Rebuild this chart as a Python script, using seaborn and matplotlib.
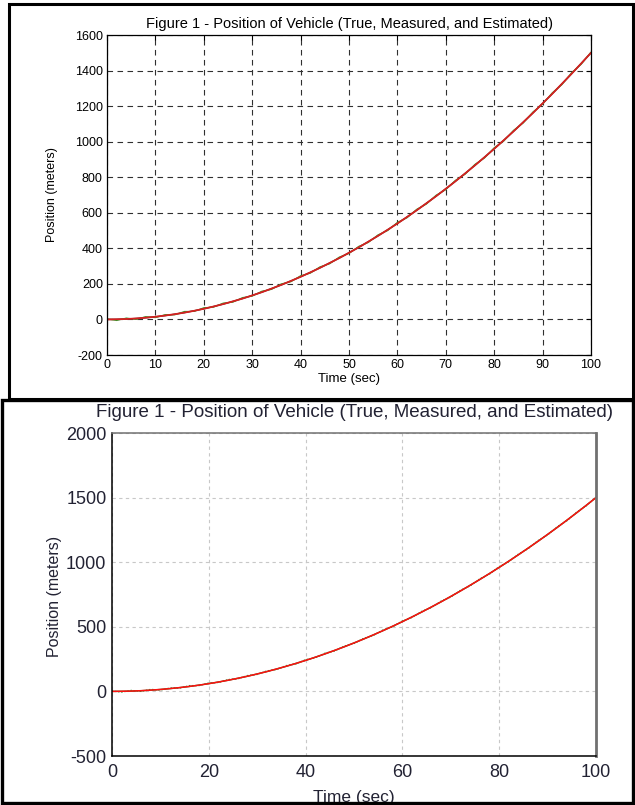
import matplotlib
matplotlib.use("Agg")
import matplotlib.pyplot as plt
import seaborn as sns
import pandas as pd
from matplotlib.patches import Rectangle

# ---- data ----
time_s = [0, 2, 4, 6, 8, 10, 12, 14, 16, 18, 20, 22, 24, 26, 28, 30, 32, 34, 36, 38,
          40, 42, 44, 46, 48, 50, 52, 54, 56, 58, 60, 62, 64, 66, 68, 70, 72, 74, 76, 78,
          80, 82, 84, 86, 88, 90, 92, 94, 96, 98, 100]
true_pos = [0, 0.6, 2.4, 5.4, 9.6, 15, 21.6, 29.4, 38.4, 48.6, 60, 72.6, 86.4, 101.4,
            117.6, 135, 153.6, 173.4, 194.4, 216.6, 240, 264.6, 290.4, 317.4, 345.6, 375,
            405.6, 437.4, 470.4, 504.6, 540, 576.6, 614.4, 653.4, 693.6, 735, 777.6, 821.4,
            866.4, 912.6, 960, 1008.6, 1058.4, 1109.4, 1161.6, 1215, 1269.6, 1325.4, 1382.4,
            1440.6, 1500]
measured_pos = [3, -6, 8, 0, 16, 10, 27, 26, 45, 45, 66, 69, 92, 97, 123, 131, 159, 169,
                200, 212, 246, 260, 296, 313, 351, 371, 411, 433, 476, 500, 546, 572, 620,
                649, 699, 730, 783, 817, 872, 908, 966, 1004, 1064, 1105, 1167, 1211, 1275,
                1321, 1388, 1436, 1504]
estimated_pos = [0, 1, 2.5, 5.5, 10, 15, 22, 29.5, 38.5, 48.5, 60, 72.5, 86.5, 101.5,
                 117.5, 135, 153.5, 173.5, 194.5, 216.5, 240, 264.5, 290.5, 317.5, 345.5,
                 375, 405.5, 437.5, 470.5, 504.5, 540, 576.5, 614.5, 653.5, 693.5, 735,
                 777.5, 821.5, 866.5, 912.5, 960, 1008.5, 1058.5, 1109.5, 1161.5, 1215,
                 1269.5, 1325.5, 1382.5, 1440.5, 1500]

title = "Figure 1 - Position of Vehicle (True, Measured, and Estimated)"
top_yticks = [-200, 0, 200, 400, 600, 800, 1000, 1200, 1400, 1600]
top_xticks = [0, 10, 20, 30, 40, 50, 60, 70, 80, 90, 100]
bot_yticks = [-500, 0, 500, 1000, 1500, 2000]
bot_xticks = [0, 20, 40, 60, 80, 100]

df = pd.DataFrame({"t": time_s, "true": true_pos, "meas": measured_pos, "est": estimated_pos})

sns.set_theme(style="white")
plt.rcParams["font.family"] = ["Liberation Sans", "DejaVu Sans"]
plt.rcParams["axes.unicode_minus"] = False

W, H = 635, 805
fig = plt.figure(figsize=(W / 100, H / 100), dpi=100)


def fr(x0, y0, x1, y1):
    return [x0 / W, 1 - y1 / H, (x1 - x0) / W, (y1 - y0) / H]


# ---------------- top panel (MATLAB style) ----------------
ax1 = fig.add_axes(fr(107, 35, 591, 355))
sns.lineplot(data=df, x="t", y="true", ax=ax1, color="#202020", lw=1.0)
sns.lineplot(data=df, x="t", y="meas", ax=ax1, color="#2ca02c", lw=0.8)
sns.lineplot(data=df, x="t", y="est", ax=ax1, color="#d62020", lw=1.3)
ax1.set_xlim(0, 100)
ax1.set_ylim(-200, 1600)
ax1.set_xticks(top_xticks)
ax1.set_yticks(top_yticks)
ax1.tick_params(direction="in", length=3.5, width=0.8, labelsize=9, colors="black",
                top=True, right=True, pad=3)
ax1.grid(True, color="#303030", ls=(0, (5, 4)), lw=0.8)
for s in ax1.spines.values():
    s.set_color("black")
    s.set_linewidth(0.9)
ax1.set_xlabel("Time (sec)", fontsize=9.5, labelpad=1, color="black")
ax1.set_ylabel("Position (meters)", fontsize=9, labelpad=12, color="black")
ax1.set_title(title, fontsize=10.5, pad=5, color="black")

# ---------------- bottom panel ----------------
ax2 = fig.add_axes(fr(112, 433, 596, 756))
sns.lineplot(data=df, x="t", y="true", ax=ax2, color="#1a6a1a", lw=1.0)
sns.lineplot(data=df, x="t", y="meas", ax=ax2, color="#2e8b2e", lw=0.9, ls=(0, (1, 1.5)))
sns.lineplot(data=df, x="t", y="est", ax=ax2, color="#ff1010", lw=1.1)
ax2.set_xlim(0, 100)
ax2.set_ylim(-500, 2000)
ax2.set_xticks(bot_xticks)
ax2.set_yticks(bot_yticks)
ax2.tick_params(direction="in", length=3, width=0.8, labelsize=13, colors="#222233",
                pad=4)
ax2.tick_params(axis="x", pad=6)
ax2.grid(True, color="#c8c8c8", ls=(0, (3, 3)), lw=0.8)
ax2.spines["left"].set_color("black")
ax2.spines["bottom"].set_color("black")
ax2.spines["left"].set_linewidth(1.1)
ax2.spines["bottom"].set_linewidth(1.1)
ax2.spines["top"].set_color("#707070")
ax2.spines["right"].set_color("#707070")
ax2.spines["top"].set_linewidth(1.1)
ax2.spines["right"].set_linewidth(2.0)
ax2.set_xlabel("")
ax2.set_ylabel("")
fig.text(354 / W, 1 - 412 / H, title, fontsize=13.5, ha="center", va="center",
         color="#222233")
fig.text(55 / W, 1 - 596 / H, "Position (meters)", fontsize=11.5, rotation=90,
         ha="center", va="center", color="#222233")
fig.text(354 / W, 1 - 790 / H, "Time (sec)", fontsize=12.5, ha="center", va="top",
         color="#222233")

# ---------------- panel frames ----------------
fig.patches.append(Rectangle((9 / W, 1 - 399 / H), (633 - 9) / W, (399 - 4) / H,
                             transform=fig.transFigure, fill=False, ec="black",
                             lw=2.2, zorder=10))
fig.patches.append(Rectangle((1.5 / W, 1 - 803 / H), (633 - 1.5) / W, (803 - 400) / H,
                             transform=fig.transFigure, fill=False, ec="black",
                             lw=2.4, zorder=10))

fig.savefig("out.png", dpi=100, facecolor="white")
